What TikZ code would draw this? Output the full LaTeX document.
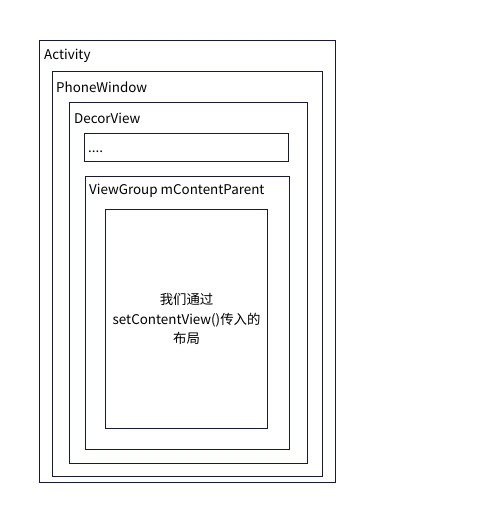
\documentclass[tikz,border=0pt]{standalone}
\usepackage{fontspec}
\setmainfont{Noto Sans CJK SC}
\usepackage{tikz}

\definecolor{boxline}{RGB}{22,26,64}

\begin{document}
\begin{tikzpicture}[x=1pt,y=-1pt,
    frame/.style={draw=boxline,line width=1.1pt,rectangle,anchor=north west,inner sep=0pt},
    lbl/.style={anchor=west,inner sep=0pt,font=\fontsize{13.4}{16}\selectfont}]
    \useasboundingbox (0,0) rectangle (501,521);

    % nested frames
    \node[frame,minimum width=296,minimum height=442] (act) at (39,40) {};
    \node[frame,minimum width=270,minimum height=405] (win) at (52,71) {};
    \node[frame,minimum width=238,minimum height=361] (decor) at (69,102) {};
    \node[frame,minimum width=204,minimum height=28] (dots) at (84,133) {};
    \node[frame,minimum width=204,minimum height=273] (parent) at (85,176) {};
    \node[frame,minimum width=162,minimum height=219] (content) at (105,209) {};

    % titles
    \node[lbl] (actT) at ([xshift=5,yshift=-15.5]act.north west) {Activity};
    \node[lbl] (winT) at ([xshift=4,yshift=-16]win.north west) {PhoneWindow};
    \node[lbl] (decorT) at ([xshift=5,yshift=-16]decor.north west) {DecorView};
    \node[lbl] (dotsT) at ([xshift=4,yshift=-18.5]dots.north west) {....};
    \node[lbl] (parentT) at ([xshift=4,yshift=-15]parent.north west) {ViewGroup mContentParent};

    \node[align=center,inner sep=0pt,font=\fontsize{13.4}{19.5}\selectfont] (contentT)
        at (content.center) {我们通过\\setContentView()传入的\\布局};
\end{tikzpicture}
\end{document}
